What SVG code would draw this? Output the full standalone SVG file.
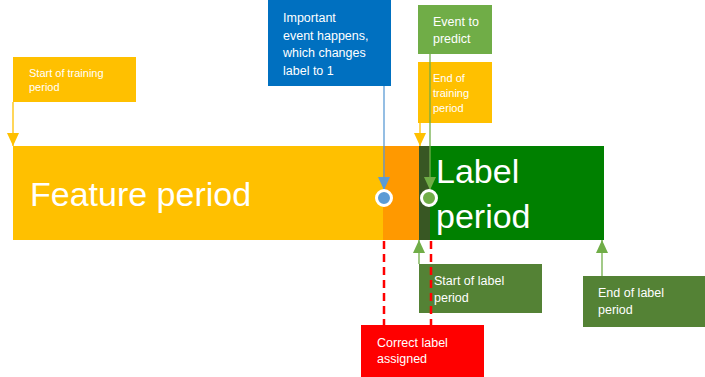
<svg xmlns="http://www.w3.org/2000/svg" width="705" height="377" viewBox="0 0 705 377">
<style>
text{font-family:"Liberation Sans",Arial,sans-serif;fill:#fff}
.s{font-size:11px}
.m{font-size:12.5px}
.big{font-size:34px}
</style>
<defs>
<marker id="ay" markerWidth="13" markerHeight="12" refX="13" refY="6" orient="auto" markerUnits="userSpaceOnUse" viewBox="0 0 13 12"><path d="M0,0 L13,6 L0,12 Z" fill="#FFC000"/></marker>
<marker id="ab" markerWidth="13" markerHeight="12" refX="13" refY="6" orient="auto" markerUnits="userSpaceOnUse" viewBox="0 0 13 12"><path d="M0,0 L13,6 L0,12 Z" fill="#5B9BD5"/></marker>
<marker id="ag" markerWidth="13" markerHeight="12" refX="13" refY="6" orient="auto" markerUnits="userSpaceOnUse" viewBox="0 0 13 12"><path d="M0,0 L13,6 L0,12 Z" fill="#70AD47"/></marker>
</defs>
<g id="bar">
<rect x="13" y="146" width="370" height="94" fill="#FFC000"/>
<rect x="383" y="146" width="36" height="94" fill="#FF9900"/>
<rect x="419" y="146" width="11" height="94" fill="#385723"/>
<rect x="430" y="146" width="174" height="94" fill="#008000"/>
<text class="big" x="30" y="206">Feature period</text>
<text class="big" x="436" y="183">Label</text>
<text class="big" x="436" y="228">period</text>
</g>
<g id="start-training">
<rect x="13" y="57" width="123" height="45" fill="#FFC000"/>
<text class="s" x="29" y="77">Start of training</text>
<text class="s" x="29" y="91">period</text>
</g>
<g id="important-event">
<rect x="268" y="0" width="123" height="86" fill="#0070C0"/>
<text class="m" x="283" y="22">Important</text>
<text class="m" x="283" y="39.5">event happens,</text>
<text class="m" x="283" y="57">which changes</text>
<text class="m" x="283" y="74.5">label to 1</text>
</g>
<g id="event-predict">
<rect x="418" y="5" width="74" height="49" fill="#70AD47"/>
<text class="m" x="433" y="26">Event to</text>
<text class="m" x="433" y="43">predict</text>
</g>
<g id="end-training">
<rect x="418" y="62" width="74" height="61" fill="#FFC000"/>
<text class="s" x="433" y="82">End of</text>
<text class="s" x="433" y="97">training</text>
<text class="s" x="433" y="112">period</text>
</g>
<g id="start-label">
<rect x="419" y="264" width="123" height="49" fill="#548235"/>
<text class="m" x="434" y="285">Start of label</text>
<text class="m" x="434" y="302">period</text>
</g>
<g id="end-label">
<rect x="583" y="276" width="122" height="51" fill="#548235"/>
<text class="m" x="598" y="297">End of label</text>
<text class="m" x="598" y="314">period</text>
</g>
<g id="correct-label">
<rect x="361" y="325" width="123" height="52" fill="#FF0000"/>
<text class="m" x="377" y="347">Correct label</text>
<text class="m" x="377" y="363">assigned</text>
</g>
<g id="connectors" fill="none" stroke-width="1.3">
<line x1="13" y1="102" x2="13" y2="146" stroke="#FFC000" marker-end="url(#ay)"/>
<line x1="420" y1="123" x2="420" y2="146" stroke="#FFC000" marker-end="url(#ay)"/>
<line x1="384" y1="86" x2="384" y2="190" stroke="#5B9BD5" marker-end="url(#ab)"/>
<line x1="430" y1="54" x2="430" y2="190" stroke="#70AD47" marker-end="url(#ag)"/>
<line x1="419" y1="264" x2="419" y2="240" stroke="#70AD47" marker-end="url(#ag)"/>
<line x1="602" y1="276" x2="602" y2="240" stroke="#70AD47" marker-end="url(#ag)"/>
<line x1="384" y1="241" x2="384" y2="325" stroke="#FF0000" stroke-width="2.5" stroke-dasharray="8,5"/>
<line x1="431" y1="241" x2="431" y2="325" stroke="#FF0000" stroke-width="2.5" stroke-dasharray="8,5"/>
<circle cx="384" cy="198" r="7.5" fill="#5B9BD5" stroke="#fff" stroke-width="3"/>
<circle cx="429" cy="198" r="7.5" fill="#70AD47" stroke="#fff" stroke-width="3"/>
</g>
</svg>
